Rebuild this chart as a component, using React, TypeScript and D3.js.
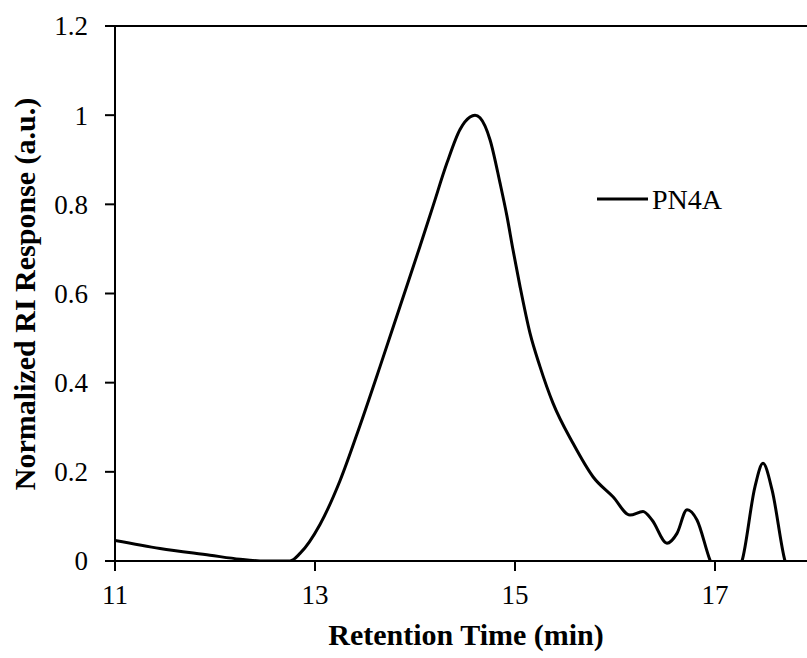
import React from 'react'
import * as d3 from 'd3'

const width = 807
const height = 658
const margin = { top: 26, right: 0, bottom: 97, left: 115 }

// retention time (min) and normalized RI response for PN4A
const retentionTime = [
  11.0, 11.45, 11.95, 12.25, 12.5, 12.75, 12.85, 13.05, 13.25, 13.45, 13.65, 13.85,
  14.05, 14.18, 14.32, 14.45, 14.55, 14.6, 14.65, 14.75, 14.85, 14.92, 14.98, 15.05, 15.15,
  15.25, 15.38, 15.58, 15.78, 15.98, 16.15, 16.28, 16.37, 16.52, 16.62, 16.72, 16.82,
  16.95, 17.1, 17.27, 17.4, 17.48, 17.57, 17.7, 17.8
]
const response = [
  0.046, 0.028, 0.013, 0.004, 0.0, 0.0, 0.017, 0.082, 0.18, 0.304, 0.436, 0.571,
  0.706, 0.796, 0.893, 0.968, 0.996, 1.0, 0.994, 0.945, 0.848, 0.773, 0.698, 0.616, 0.511,
  0.436, 0.354, 0.264, 0.189, 0.144, 0.103, 0.111, 0.092, 0.04, 0.062, 0.115, 0.092,
  0.002, -0.06, 0.0, 0.167, 0.219, 0.16, 0.0, -0.05
]
const xTicks = [11, 13, 15, 17]
const yTicks = [0, 0.2, 0.4, 0.6, 0.8, 1, 1.2]
const seriesName = 'PN4A'

const font = '"Liberation Serif", "Times New Roman", serif'

const App = () => {
  const xScale = d3.scaleLinear().domain([11, 17.92]).range([margin.left, width - margin.right])
  const yScale = d3.scaleLinear().domain([0, 1.2]).range([height - margin.bottom, margin.top])

  const points = retentionTime.map((t, i) => [t, response[i]] as [number, number])
  const line = d3.line<[number, number]>()
    .x(d => xScale(d[0]))
    .y(d => yScale(d[1]))
    .curve(d3.curveMonotoneX)

  const x0 = margin.left
  const y0 = height - margin.bottom

  return (
    <svg width={width} height={height} style={{ position: 'absolute', left: 0, top: 0, background: '#fff' }}>
      <defs>
        <clipPath id="plot">
          <rect x={x0} y={margin.top} width={width - x0} height={y0 - margin.top} />
        </clipPath>
      </defs>

      <path d={line(points) || ''} fill="none" stroke="#000" strokeWidth={3} clipPath="url(#plot)" />

      {/* top border */}
      <line x1={x0 - 10} x2={width} y1={yScale(1.2)} y2={yScale(1.2)} stroke="#000" strokeWidth={2} />
      {/* y axis */}
      <line x1={x0} x2={x0} y1={margin.top} y2={y0} stroke="#000" strokeWidth={2} />
      {yTicks.map(t => (
        <g key={t}>
          <line x1={x0 - 10} x2={x0} y1={yScale(t)} y2={yScale(t)} stroke="#000" strokeWidth={2} />
          <text x={88} y={yScale(t)} dy="0.35em" textAnchor="end" fontFamily={font} fontSize={27}>{t}</text>
        </g>
      ))}
      {/* x axis */}
      <line x1={x0 - 10} x2={width} y1={y0} y2={y0} stroke="#000" strokeWidth={2} />
      {xTicks.map(t => (
        <g key={t}>
          <line x1={xScale(t)} x2={xScale(t)} y1={y0} y2={y0 + 10} stroke="#000" strokeWidth={2} />
          <text x={xScale(t)} y={595} dy="0.35em" textAnchor="middle" fontFamily={font} fontSize={27}>{t}</text>
        </g>
      ))}

      <text x={466} y={645} textAnchor="middle" fontFamily={font} fontSize={30} fontWeight="bold">
        Retention Time (min)
      </text>
      <text transform={`translate(35, 294) rotate(-90)`} textAnchor="middle" fontFamily={font} fontSize={30} fontWeight="bold">
        Normalized RI Response (a.u.)
      </text>

      {/* legend */}
      <line x1={597} x2={648} y1={199} y2={199} stroke="#000" strokeWidth={3} />
      <text x={652} y={199} dy="0.35em" fontFamily={font} fontSize={28}>{seriesName}</text>
    </svg>
  )
}

export default App
